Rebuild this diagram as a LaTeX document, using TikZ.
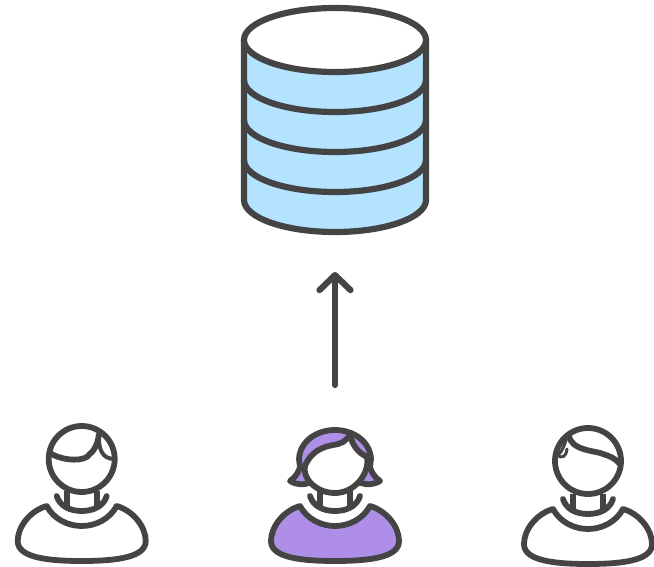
\documentclass[tikz,border=0pt]{standalone}
\usetikzlibrary{arrows.meta}
\definecolor{ink}{HTML}{444444}
\definecolor{dbblue}{HTML}{B3E3FF}
\definecolor{userpurple}{HTML}{AF8EE8}
\tikzset{
  line/.style={draw=ink,line width=6.2pt,line join=round,line cap=round},
  thinline/.style={draw=ink,line width=5.8pt,line join=round,line cap=round},
  pics/torso/.style={code={
    \path[thinline,fill=#1] (-35,47) .. controls (-28,60) and (-14,67) .. (0,67)
      .. controls (14,67) and (28,60) .. (35,47)
      .. controls (52,52) and (64,68) .. (64,82)
      .. controls (64,97) and (40,102) .. (0,102)
      .. controls (-40,102) and (-64,97) .. (-64,82)
      .. controls (-64,68) and (-52,52) .. (-35,47) -- cycle;
    \draw[thinline] (-25,37) .. controls (-22,47) and (-12,52) .. (0,52)
      .. controls (12,52) and (22,47) .. (25,37);
    \draw[thinline,line cap=butt] (-15,32) -- (-15,48) (15,32) -- (15,48);
  }}
}
\begin{document}
\begin{tikzpicture}[x=1pt,y=-1pt]
\useasboundingbox (0,0) rectangle (654,567);
% database
\path[line,fill=dbblue] (244,40) -- (244,200) arc[start angle=180,end angle=0,x radius=91,y radius=32] -- (426,40) -- cycle;
\foreach \yy in {80,120,160}
  \draw[line] (244,\yy) arc[start angle=180,end angle=0,x radius=91,y radius=32];
\path[line,fill=white] (335,40) ellipse[x radius=91,y radius=32];
% arrow
\coordinate (arrowstart) at (335,385);
\coordinate (arrowend) at (335,272);
\draw[line,-{Straight Barb[length=15pt,width=31pt,round]}] (arrowstart) -- (arrowend);
% left user
\begin{scope}[shift={(81.7,459)}]
\pic {torso=white};
\draw[thinline] (0,0) circle[radius=33];
\draw[thinline] (-30,-5) .. controls (-18,2) and (4,3) .. (8,-5) .. controls (14,-9) and (17,-20) .. (17,-24);
\draw[draw=ink,line width=4pt,line cap=round] (17,-24) .. controls (17,-10) and (20,0) .. (33,0);
\end{scope}
% middle user
\begin{scope}[shift={(335,459)}]
\pic {torso=userpurple};
\path[thinline,fill=userpurple] (-35,8) .. controls (-36,12) and (-39,18) .. (-45,22)
  .. controls (-38,26) and (-32,26) .. (-26,24)
  -- (26,24) .. controls (32,26) and (38,26) .. (45,22)
  .. controls (39,18) and (36,12) .. (35,8)
  -- (36,0) .. controls (35,-18) and (18,-29) .. (0,-29)
  .. controls (-18,-29) and (-35,-18) .. (-36,0) -- cycle;
\path[thinline,fill=white] (-30,7) .. controls (-24,-8) and (-12,-12) .. (-2,-14)
  .. controls (6,-15) and (12,-18) .. (15,-25)
  .. controls (17,-13) and (24,-6) .. (32,-2)
  .. controls (35,14) and (20,34) .. (0,34)
  .. controls (-20,34) and (-33,18) .. (-30,7) -- cycle;
\end{scope}
% right user
\begin{scope}[shift={(588,461)}]
\pic[yshift=-1pt] {torso=white};
\draw[thinline] (0,0) circle[radius=33];
\draw[thinline] (-19,-26) .. controls (-18,-10) and (10,-10) .. (15,-7) .. controls (22,-5) and (28,-2) .. (32,3);
\draw[draw=ink,line width=3pt,line cap=round,line join=round] (-21,-24) .. controls (-24,-14) and (-27,-7) .. (-31,-6) .. controls (-26,-2) and (-22,-4) .. (-21,-12);
\end{scope}
\end{tikzpicture}
\end{document}
